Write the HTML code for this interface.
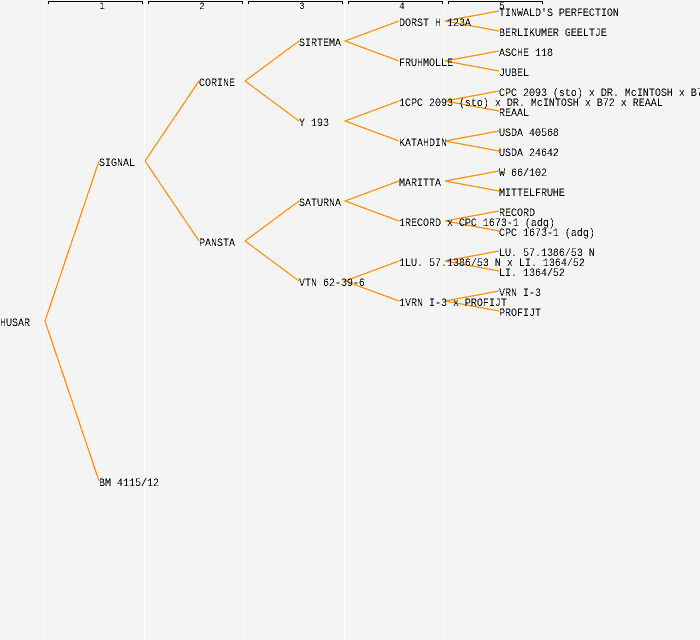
<!DOCTYPE html>
<html>
<head>
<meta charset="utf-8">
<style>
html,body{margin:0;padding:0;background:#f4f4f4;width:700px;height:640px;overflow:hidden}
svg{display:block}
text{font-family:"Liberation Mono","DejaVu Sans Mono",monospace;font-size:11px;fill:#000}
.n{font-size:10px;text-anchor:middle}
.v{stroke:#fff;stroke-width:1;fill:none}
.h{stroke:#000;stroke-width:1;fill:none}
.l{stroke:#ff8c00;stroke-width:1.2;fill:none;shape-rendering:crispEdges}
</style>
</head>
<body>
<svg width="700" height="640" viewBox="0 0 700 640" xmlns="http://www.w3.org/2000/svg">
<defs>
<filter id="a" x="0" y="0" width="700" height="640" filterUnits="userSpaceOnUse" color-interpolation-filters="sRGB">
<feComponentTransfer><feFuncA type="discrete" tableValues="0 0 1 1"/></feComponentTransfer>
</filter>
</defs>
<rect width="700" height="640" fill="#f4f4f4"/>
<g class="v" shape-rendering="crispEdges">
<path d="M44.500 0V640M144.500 0V640M244.500 0V640M344.500 0V640M444.500 0V640"/>
</g>
<g class="h" shape-rendering="crispEdges">
<path d="M48.500 4V1.500H142.500V4M148.500 4V1.500H242.500V4M248.500 4V1.500H342.500V4M348.500 4V1.500H442.500V4M448.500 4V1.500H542.500V4"/>
</g>
<g class="l">
<path d="M99 161L45 321L99 481"/>
<path d="M199 81L145 161L199 241"/>
<path d="M299 41L245 81L299 121"/>
<path d="M299 201L245 241L299 281"/>
<path d="M399 21L345 41L399 61"/>
<path d="M399 101L345 121L399 141"/>
<path d="M399 181L345 201L399 221"/>
<path d="M399 261L345 281L399 301"/>
<path d="M499 11L445 21L499 31"/>
<path d="M499 51L445 61L499 71"/>
<path d="M499 91L445 101L499 111"/>
<path d="M499 131L445 141L499 151"/>
<path d="M499 171L445 181L499 191"/>
<path d="M499 211L445 221L499 231"/>
<path d="M499 251L445 261L499 271"/>
<path d="M499 291L445 301L499 311"/>
</g>
<g filter="url(#a)">
<g transform="scale(0.90909 1)">
<text class="n" x="112.200" y="9">1</text>
<text class="n" x="222.200" y="9">2</text>
<text class="n" x="332.200" y="9">3</text>
<text class="n" x="442.200" y="9">4</text>
<text class="n" x="552.200" y="9">5</text>
<text x="0" y="326">HUSAR</text>
<text x="108.900" y="166">SIGNAL</text>
<text x="108.900" y="486">BM 4115/12</text>
<text x="218.900" y="86">CORINE</text>
<text x="218.900" y="246">PANSTA</text>
<text x="328.900" y="46">SIRTEMA</text>
<text x="328.900" y="126">Y 193</text>
<text x="328.900" y="206">SATURNA</text>
<text x="328.900" y="286">VTN 62-39-6</text>
<text x="438.900" y="26">DORST H 123A</text>
<text x="438.900" y="66">FRUHMOLLE</text>
<text x="438.900" y="106">1CPC 2093 (sto) x DR. McINTOSH x B72 x REAAL</text>
<text x="438.900" y="146">KATAHDIN</text>
<text x="438.900" y="186">MARITTA</text>
<text x="438.900" y="226">1RECORD x CPC 1673-1 (adg)</text>
<text x="438.900" y="266">1LU. 57.1386/53 N x LI. 1364/52</text>
<text x="438.900" y="306">1VRN I-3 x PROFIJT</text>
<text x="548.900" y="16">TINWALD'S PERFECTION</text>
<text x="548.900" y="36">BERLIKUMER GEELTJE</text>
<text x="548.900" y="56">ASCHE 118</text>
<text x="548.900" y="76">JUBEL</text>
<text x="548.900" y="96">CPC 2093 (sto) x DR. McINTOSH x B72</text>
<text x="548.900" y="116">REAAL</text>
<text x="548.900" y="136">USDA 40568</text>
<text x="548.900" y="156">USDA 24642</text>
<text x="548.900" y="176">W 66/102</text>
<text x="548.900" y="196">MITTELFRUHE</text>
<text x="548.900" y="216">RECORD</text>
<text x="548.900" y="236">CPC 1673-1 (adg)</text>
<text x="548.900" y="256">LU. 57.1386/53 N</text>
<text x="548.900" y="276">LI. 1364/52</text>
<text x="548.900" y="296">VRN I-3</text>
<text x="548.900" y="316">PROFIJT</text>
</g>
</g>
</svg>
</body>
</html>
